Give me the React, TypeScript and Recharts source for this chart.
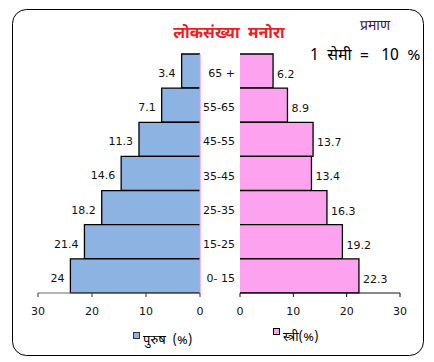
import React from "react";
import { BarChart, Bar, XAxis, YAxis, LabelList, ReferenceLine } from "recharts";

const ageGroups = ["65 +", "55-65", "45-55", "35-45", "25-35", "15-25", "0- 15"];
const maleValues = [3.4, 7.1, 11.3, 14.6, 18.2, 21.4, 24];
const femaleValues = [6.2, 8.9, 13.7, 13.4, 16.3, 19.2, 22.3];
const axisTicks = [0, 10, 20, 30];

const titleText = "लोकसंख्या  मनोरा";
const scaleTitle = "प्रमाण";
const scaleText = "1  सेमी  =   10  %";
const maleLegend = "पुरुष  (%)";
const femaleLegend = "स्त्री(%)";

const data = ageGroups.map((age, i) => ({ age, male: maleValues[i], female: femaleValues[i] }));

const BLUE = "#8db3e2";
const PINK = "#fca2ef";
const FONT = "'DejaVu Sans', Verdana, sans-serif";
const DEVA = "'Noto Sans Devanagari', 'Lohit Devanagari', 'FreeSans', 'Mangal', 'Noto Sans', sans-serif";

const W = 434;
const H = 362;

const LeftShape = (p: any) => {
  const x0 = Math.min(p.x, p.x + p.width);
  const w = Math.abs(p.width);
  const x1 = x0 + w;
  const y0 = p.y;
  const y1 = p.y + p.height;
  return (
    <g>
      <rect x={x0} y={y0} width={w} height={p.height} fill={BLUE} />
      <path d={`M${x1},${y0} L${x0},${y0} L${x0},${y1} L${x1},${y1}`} fill="none" stroke="#000" strokeWidth={1.3} />
    </g>
  );
};

const RightShape = (p: any) => {
  const x0 = Math.min(p.x, p.x + p.width);
  const w = Math.abs(p.width);
  const x1 = x0 + w;
  const y0 = p.y;
  const y1 = p.y + p.height;
  return (
    <g>
      <rect x={x0} y={y0} width={w} height={p.height} fill={PINK} />
      <path d={`M${x0},${y0} L${x1},${y0} L${x1},${y1} L${x0},${y1}`} fill="none" stroke="#000" strokeWidth={1.3} />
    </g>
  );
};

const LeftLabel = (p: any) => {
  const x0 = Math.min(p.x, p.x + p.width);
  return (
    <text x={x0 - 6} y={p.y + p.height / 2 + 6} textAnchor="end" fontSize={11} fontFamily={FONT} fill="#111">
      {p.value}
    </text>
  );
};

const RightLabel = (p: any) => {
  const x1 = Math.max(p.x, p.x + p.width);
  return (
    <text x={x1 + 4} y={p.y + p.height / 2 + 7} textAnchor="start" fontSize={11} fontFamily={FONT} fill="#111">
      {p.value}
    </text>
  );
};

const CatTick = (p: any) => (
  <text x={p.x} y={p.y + 6} textAnchor="end" fontSize={11} fontFamily={FONT} fill="#111">
    {p.payload.value}
  </text>
);

const tickStyle = { fontSize: 11, fontFamily: FONT, fill: "#111" };

export default function App() {
  return (
    <div style={{ position: "absolute", left: 0, top: 0, width: W, height: H, background: "#fff", fontFamily: FONT }}>
      <div style={{ position: "absolute", left: 0, top: 0 }}>
        <BarChart
          width={W}
          height={H}
          data={data}
          layout="vertical"
          barCategoryGap={0}
          margin={{ top: 54, left: 38, right: 234, bottom: 39 }}
        >
          <XAxis
            type="number"
            domain={[0, 30]}
            ticks={axisTicks}
            reversed
            height={30}
            tickSize={4}
            tickMargin={10}
            tick={tickStyle}
            stroke="#666"
            axisLine={{ stroke: "#666" }}
            tickLine={{ stroke: "#333" }}
          />
          <YAxis type="category" dataKey="age" hide />
          <Bar dataKey="male" isAnimationActive={false} shape={LeftShape}>
            <LabelList dataKey="male" content={LeftLabel} />
          </Bar>
          <ReferenceLine x={0} stroke="#f08ad8" strokeWidth={1.2} />
        </BarChart>
      </div>
      <div style={{ position: "absolute", left: 0, top: 0 }}>
        <BarChart
          width={W}
          height={H}
          data={data}
          layout="vertical"
          barCategoryGap={0}
          margin={{ top: 54, left: 200, right: 34, bottom: 39 }}
        >
          <XAxis
            type="number"
            domain={[0, 30]}
            ticks={axisTicks}
            height={30}
            tickSize={4}
            tickMargin={10}
            tick={tickStyle}
            axisLine={{ stroke: "#111" }}
            tickLine={{ stroke: "#111" }}
          />
          <YAxis
            type="category"
            dataKey="age"
            width={40}
            axisLine={false}
            tickLine={false}
            tickSize={0}
            tickMargin={5}
            tick={CatTick}
          />
          <Bar dataKey="female" isAnimationActive={false} shape={RightShape}>
            <LabelList dataKey="female" content={RightLabel} />
          </Bar>
        </BarChart>
      </div>
      <svg width={W} height={H} style={{ position: "absolute", left: 0, top: 0, pointerEvents: "none" }}>
        <rect x={12.5} y={9.5} width={411} height={346} rx={14} ry={14} fill="none" stroke="#000" strokeWidth={1} />
        <text x={229} y={38} textAnchor="middle" fontSize={16} fontWeight="bold" fill="#ee1d23" fontFamily={DEVA} style={{ whiteSpace: "pre" }}>
          {titleText}
        </text>
        <text x={375} y={30} textAnchor="middle" fontSize={14} fill="#4a1240" fontFamily={DEVA}>
          {scaleTitle}
        </text>
        <text x={310} y={60} fontSize={16} fill="#000" fontFamily={DEVA} style={{ whiteSpace: "pre" }}>
          {scaleText}
        </text>
        <rect x={133.5} y={332.5} width={6} height={6} fill={BLUE} stroke="#333" />
        <text x={143} y={344} fontSize={13} fill="#000" fontFamily={DEVA} style={{ whiteSpace: "pre" }}>
          {maleLegend}
        </text>
        <rect x={273.5} y={328.5} width={6} height={6} fill={PINK} stroke="#000" />
        <text x={283} y={341} fontSize={13} fill="#000" fontFamily={DEVA}>
          {femaleLegend}
        </text>
      </svg>
    </div>
  );
}
